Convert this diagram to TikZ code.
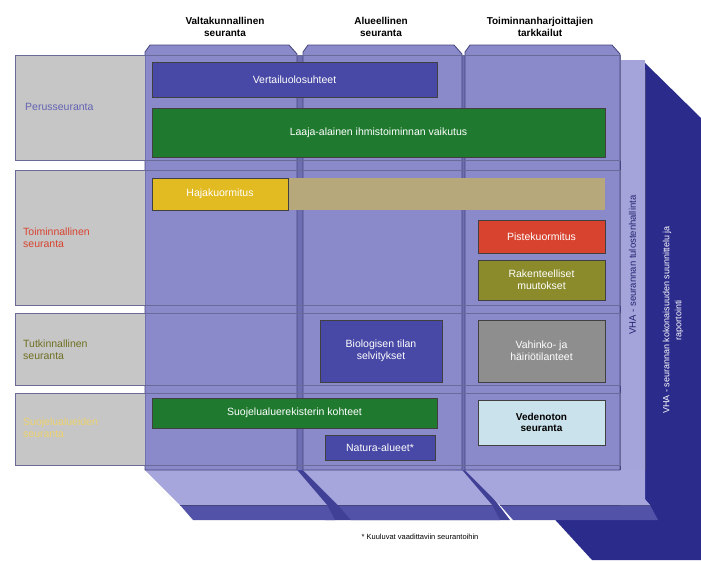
\documentclass[tikz,border=0pt]{standalone}
\usepackage{fontspec}
\setmainfont{Liberation Sans}
\definecolor{slab}{HTML}{8A8ACA}
\definecolor{slabgap}{HTML}{6E6EB2}
\definecolor{slabline}{HTML}{45457E}
\definecolor{sidebar}{HTML}{A4A4DA}
\definecolor{darkpanel}{HTML}{2B2B8C}
\definecolor{floor}{HTML}{A6A6DC}
\definecolor{floordark}{HTML}{5252A8}
\definecolor{greycell}{HTML}{C6C6C6}
\definecolor{boxblue}{HTML}{4848A6}
\definecolor{boxgreen}{HTML}{1F7A30}
\definecolor{boxyellow}{HTML}{E2BA22}
\definecolor{boxtan}{HTML}{B7A87C}
\definecolor{boxred}{HTML}{D8432F}
\definecolor{boxolive}{HTML}{8B8B2C}
\definecolor{boxgrey}{HTML}{8E8E8E}
\definecolor{boxlight}{HTML}{CAE2EC}
\begin{document}
\begin{tikzpicture}[x=1pt,y=-1pt]
\tikzstyle{every node}=[font=\fontsize{10.5}{12}\selectfont, align=center, inner sep=1pt]
\tikzstyle{colhead}=[font=\bfseries\fontsize{10}{11.5}\selectfont]
\tikzstyle{rowlabel}=[anchor=west, align=left]
\tikzstyle{box}=[draw=black!75, line width=0.8pt, text=white]
\useasboundingbox (0,0) rectangle (701,563);
% dark panel and floor
\fill[darkpanel] (642,60) -- (701,118) -- (701,560) -- (592,560) -- (548,512) -- (620,512) -- (620,60) -- cycle;
\fill[darkpanel!90] (290,470) -- (472,470) -- (510,520) -- (325,520) -- cycle;
\foreach \xl/\xr in {145/297, 303/462, 465/620} {
  \fill[floor] (\xl,470) -- (\xr,470) -- (\xr+30,505) -- (\xl+35,505) -- cycle;
  \fill[floordark] (\xl+35,505) -- (\xr+30,505) -- (\xr+38,520) -- (\xl+48,520) -- cycle;
  \draw[slabline, line width=0.6pt] (\xl+35,505) -- (\xr+30,505);
}
\fill[floor] (620,470) -- (645,470) -- (645,500) -- (650,505) -- (620,505) -- cycle;
% column slabs
\fill[slabgap] (290,55) rectangle (310,470) (455,55) rectangle (472,470);
\foreach \xl/\xr in {145/297, 303/462, 465/620} {
  \filldraw[fill=slab, draw=slabline, line width=0.8pt] (\xl,52) -- (\xl+5,45) -- (\xr-8,45) -- (\xr,54) -- (\xr,470) -- (\xl,470) -- cycle;
}
\fill[sidebar] (620,60) rectangle (645,470);
\draw[slabline, line width=0.8pt] (620,60) -- (620,470) (645,70) -- (645,470);
% rows
\foreach \yt/\yb in {55/160, 170/305, 313/385, 393/465} {
  \fill[greycell] (15,\yt) rectangle (145,\yb);
  \draw[slabline!80, line width=0.8pt] (15,\yt) rectangle (620,\yb);
}
% column headers
\node (hval) [colhead] at (225,27) {Valtakunnallinen\\seuranta};
\node (halue) [colhead] at (381,27) {Alueellinen\\seuranta};
\node (htoim) [colhead] at (540,27) {Toiminnanharjoittajien\\tarkkailut};
% row labels
\node (rperus) [rowlabel, text=boxblue!85] at (24,107) {Perusseuranta};
\node (rtoim) [rowlabel, text=boxred] at (22,238) {Toiminnallinen\\seuranta};
\node (rtutk) [rowlabel, text=boxolive!80!black] at (22,350) {Tutkinnallinen\\seuranta};
\node (rsuoj) [rowlabel, text=boxyellow!65] at (22,428) {Suojelualueiden\\seuranta};
% boxes
\fill[boxtan] (288,178) rectangle (605,210);
\node (verta) [box, fill=boxblue, minimum width=285pt, minimum height=35pt] at (294.5,79.5) {Vertailuolosuhteet};
\node (laaja) [box, fill=boxgreen, minimum width=453pt, minimum height=49pt] at (378.5,132.5) {Laaja-alainen ihmistoiminnan vaikutus};
\node (haja) [box, fill=boxyellow, minimum width=136pt, minimum height=32pt] at (220,194) {Hajakuormitus};
\node (piste) [box, fill=boxred, minimum width=127pt, minimum height=33pt] at (541.5,236.5) {Pistekuormitus};
\node (raken) [box, fill=boxolive, minimum width=127pt, minimum height=40pt] at (541.5,280) {Rakenteelliset\\muutokset};
\node (biolo) [box, fill=boxblue, minimum width=122pt, minimum height=62pt] at (381,351) {Biologisen tilan\\selvitykset};
\node (vahin) [box, fill=boxgrey, minimum width=127pt, minimum height=62pt] at (541.5,351) {Vahinko- ja\\häiriötilanteet};
\node (suoje) [box, fill=boxgreen, minimum width=285pt, minimum height=30pt] at (294.5,413) {Suojelualuerekisterin kohteet};
\node (natura) [box, fill=boxblue, minimum width=110pt, minimum height=25pt] at (380,447.5) {Natura-alueet*};
\node (veden) [box, fill=boxlight, text=black, font=\bfseries\fontsize{10}{11.5}\selectfont, minimum width=127pt, minimum height=45pt] at (541.5,422.5) {Vedenoton\\seuranta};
% side texts
\node (vhabar) [rotate=90, text=darkpanel!80!black, font=\fontsize{9.5}{11}\selectfont] at (632.5,265) {VHA - seurannan tulostenhallinta};
\node (vhapanel) [rotate=90, text=white, font=\fontsize{9}{12}\selectfont] at (673,320) {VHA - seurannan kokonaisuuden suunnittelu ja\\raportointi};
% footnote
\node (note) [font=\fontsize{7.5}{9}\selectfont] at (420,537) {* Kuuluvat vaadittaviin seurantoihin};
\end{tikzpicture}
\end{document}
